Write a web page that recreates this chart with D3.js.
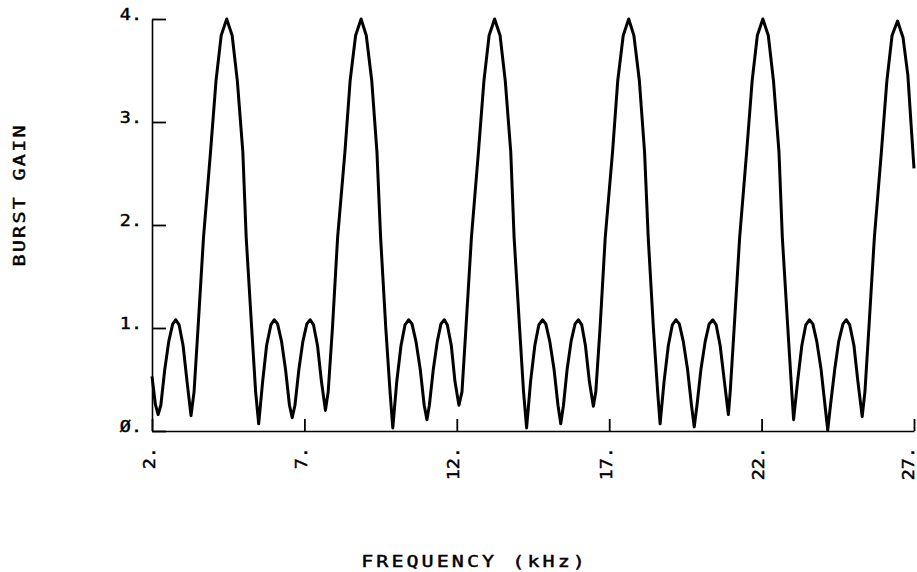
<!DOCTYPE html>
<html>
<head>
<meta charset="utf-8">
<script src="https://cdn.jsdelivr.net/npm/d3@7"></script>
<style>
	body { margin: 0; background: #fff; }
	text { font-family: 'DejaVu Sans Mono', monospace; fill: #000; stroke: #000; stroke-width: 0.45px; }
</style>
</head>
<body>
<div id="chart"></div>
<script>
// burst gain, kHz / gain
var freqKHz = [
	2.00, 2.11, 2.20, 2.29, 2.42, 2.55, 2.68, 2.78, 2.89, 3.02, 3.15, 3.28,
	3.38, 3.51, 3.69, 3.92, 4.10, 4.27, 4.45, 4.63, 4.80, 4.98, 5.09, 5.27, 5.40, 5.50,
	5.63, 5.76, 5.90, 6.01, 6.12, 6.25, 6.38, 6.51, 6.60,
	6.69, 6.82, 6.95, 7.08, 7.19, 7.30, 7.43, 7.56, 7.69,
	7.78, 7.92, 8.09, 8.33, 8.50, 8.68, 8.86, 9.03, 9.21, 9.38, 9.50, 9.67, 9.81, 9.90,
	10.03, 10.17, 10.30, 10.42, 10.53, 10.66, 10.80, 10.93, 11.02,
	11.10, 11.23, 11.36, 11.48, 11.59, 11.69, 11.82, 11.94, 12.07,
	12.17, 12.30, 12.48, 12.71, 12.89, 13.06, 13.24, 13.42, 13.59, 13.77, 13.88, 14.06, 14.19, 14.29,
	14.42, 14.56, 14.69, 14.81, 14.92, 15.05, 15.19, 15.32, 15.41,
	15.50, 15.62, 15.75, 15.88, 15.99, 16.10, 16.22, 16.35, 16.48,
	16.56, 16.70, 16.87, 17.11, 17.28, 17.46, 17.64, 17.81, 17.99, 18.16, 18.28, 18.45, 18.59, 18.67,
	18.80, 18.94, 19.07, 19.19, 19.30, 19.43, 19.57, 19.70, 19.79,
	19.88, 20.01, 20.15, 20.28, 20.40, 20.51, 20.64, 20.78, 20.91,
	20.97, 21.10, 21.28, 21.51, 21.69, 21.86, 22.04, 22.22, 22.39, 22.57, 22.68, 22.86, 22.99, 23.05,
	23.18, 23.32, 23.45, 23.57, 23.68, 23.81, 23.95, 24.08, 24.17,
	24.26, 24.40, 24.53, 24.67, 24.78, 24.89, 25.03, 25.16, 25.30,
	25.39, 25.52, 25.70, 25.93, 26.11, 26.28, 26.46, 26.64, 26.80, 26.91, 27.00
];
var burstGain = [
	0.53, 0.26, 0.16, 0.25, 0.60, 0.87, 1.04, 1.08, 1.03, 0.83, 0.48, 0.15,
	0.38, 1.00, 1.88, 2.71, 3.40, 3.84, 4.00, 3.84, 3.40, 2.71, 1.88, 1.00, 0.38, 0.07,
	0.48, 0.83, 1.03, 1.08, 1.04, 0.87, 0.60, 0.25, 0.13,
	0.25, 0.60, 0.87, 1.04, 1.08, 1.03, 0.83, 0.48, 0.20,
	0.38, 1.00, 1.88, 2.71, 3.40, 3.84, 4.00, 3.84, 3.40, 2.71, 1.88, 1.00, 0.38, 0.03,
	0.48, 0.83, 1.03, 1.08, 1.04, 0.87, 0.60, 0.25, 0.11,
	0.25, 0.60, 0.87, 1.04, 1.08, 1.03, 0.83, 0.48, 0.25,
	0.38, 1.00, 1.88, 2.71, 3.40, 3.84, 4.00, 3.84, 3.40, 2.71, 1.88, 1.00, 0.38, 0.03,
	0.48, 0.83, 1.03, 1.08, 1.04, 0.87, 0.60, 0.25, 0.07,
	0.25, 0.60, 0.87, 1.04, 1.08, 1.03, 0.83, 0.48, 0.24,
	0.38, 1.00, 1.88, 2.71, 3.40, 3.84, 4.00, 3.84, 3.40, 2.71, 1.88, 1.00, 0.38, 0.07,
	0.48, 0.83, 1.03, 1.08, 1.04, 0.87, 0.60, 0.25, 0.04,
	0.25, 0.60, 0.87, 1.04, 1.08, 1.03, 0.83, 0.48, 0.16,
	0.38, 1.00, 1.88, 2.71, 3.40, 3.84, 4.00, 3.84, 3.40, 2.71, 1.88, 1.00, 0.38, 0.11,
	0.48, 0.83, 1.03, 1.08, 1.04, 0.87, 0.60, 0.25, 0.01,
	0.25, 0.60, 0.87, 1.04, 1.08, 1.03, 0.83, 0.48, 0.14,
	0.38, 1.00, 1.88, 2.71, 3.40, 3.84, 3.98, 3.82, 3.45, 2.95, 2.55
];

var xTicks = [2, 7, 12, 17, 22, 27],
	xTickLabels = ['2.', '7.', '12.', '17.', '22.', '27.'];
var yTicks = [0, 1, 2, 3, 4],
	yTickLabels = ['Ø.', '1.', '2.', '3.', '4.'];

function drawBurstChart() {
	var width = 917,
		height = 572;
	var margin = {top: 19, right: 3, bottom: 141, left: 152};

	var x = d3.scaleLinear()
		.domain([2, 27])
		.range([margin.left, width - margin.right]);
	var y = d3.scaleLinear()
		.domain([0, 4])
		.range([height - margin.bottom, margin.top]);

	var svg = d3.select('#chart').append('svg')
		.attr('width', width)
		.attr('height', height)
		.style('background', '#fff');

	// x axis, ticks point up into the plot
	var xAxis = svg.append('g')
		.attr('transform', 'translate(0,' + y(0) + ')')
		.call(d3.axisBottom(x)
			.tickValues(xTicks)
			.tickSizeInner(-12)
			.tickSizeOuter(0)
			.tickFormat(function(d, i) { return xTickLabels[i]; }));

	xAxis.selectAll('text')
		.attr('transform', 'rotate(-90) scale(1.15,1)')
		.attr('text-anchor', 'end')
		.attr('x', -14)
		.attr('y', function(d) { return d === 27 ? -1 : 2; })
		.attr('dy', 0)
		.style('font-size', '16px');

	var yAxis = svg.append('g')
		.attr('transform', 'translate(' + x(2) + ',0)')
		.call(d3.axisLeft(y)
			.tickValues(yTicks)
			.tickSizeInner(-14)
			.tickSizeOuter(0)
			.tickPadding(10)
			.tickFormat(function(d, i) { return yTickLabels[i]; }));

	yAxis.selectAll('text')
		.attr('dy', 0)
		.attr('transform', 'translate(-10,0) scale(1.15,1) translate(10,0)')
		.style('font-size', '16px');

	svg.selectAll('.domain')
		.attr('stroke', '#000')
		.attr('stroke-width', 1.6);
	svg.selectAll('.tick line')
		.attr('stroke', '#000')
		.attr('stroke-width', 1.8);

	var line = d3.line()
		.x(function(d) { return x(d[0]); })
		.y(function(d) { return y(d[1]); });

	svg.append('path')
		.datum(d3.zip(freqKHz, burstGain))
		.attr('fill', 'none')
		.attr('stroke', '#000')
		.attr('stroke-width', 3)
		.attr('stroke-linejoin', 'round')
		.attr('d', line);

	// axis titles, glyphs stretched a bit like the plotter font
	svg.append('text')
		.attr('transform', 'translate(473,567) scale(1.25,1)')
		.attr('text-anchor', 'middle')
		.attr('textLength', 179)
		.attr('lengthAdjust', 'spacing')
		.style('font-size', '16px')
		.text('FREQUENCY (kHz)');

	svg.append('text')
		.attr('transform', 'translate(25,196) rotate(-90) scale(1.25,1)')
		.attr('text-anchor', 'middle')
		.attr('textLength', 113)
		.attr('lengthAdjust', 'spacing')
		.style('font-size', '16px')
		.text('BURST GAIN');
}

drawBurstChart();
</script>
</body>
</html>
